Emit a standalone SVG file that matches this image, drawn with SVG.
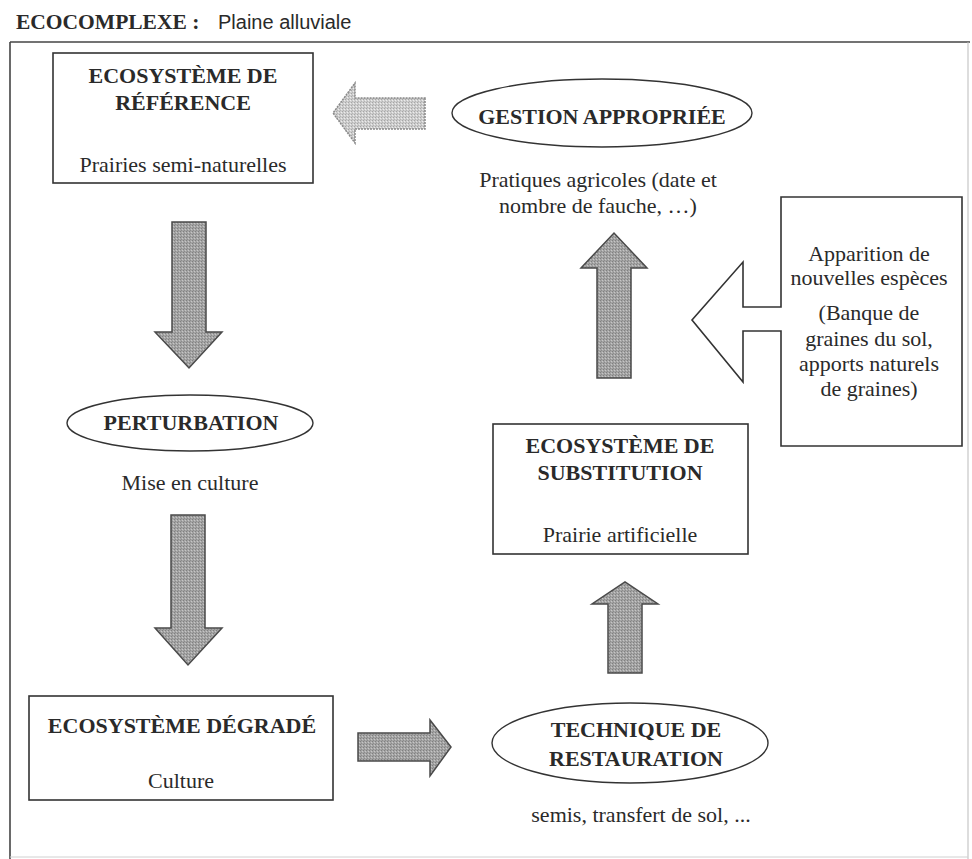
<svg xmlns="http://www.w3.org/2000/svg" width="972" height="859" viewBox="0 0 972 859">
<defs>
<pattern id="dk" width="3" height="3" patternUnits="userSpaceOnUse"><rect width="3" height="3" fill="#a4a4a4"/><rect width="1" height="1" fill="#808080"/><rect x="2" y="1" width="1" height="1" fill="#c6c6c6"/><rect x="1" y="2" width="1" height="1" fill="#8c8c8c"/></pattern>
<pattern id="lt" width="3" height="3" patternUnits="userSpaceOnUse"><rect width="3" height="3" fill="#cdcdcd"/><rect width="1" height="1" fill="#a6a6a6"/><rect x="2" y="1" width="1" height="1" fill="#ececec"/><rect x="1" y="2" width="1" height="1" fill="#b4b4b4"/></pattern>
</defs>
<style>
.box{fill:#fff;stroke:#333;stroke-width:1.6}
.ell{fill:#fff;stroke:#333;stroke-width:1.4}
.arr{fill:url(#dk);stroke:#4a4a4a;stroke-width:1.5;stroke-linejoin:miter}
.arrl{fill:url(#lt);stroke:#8a8a8a;stroke-width:1.5;stroke-dasharray:2 1}
.b{font-family:"Liberation Serif","Times New Roman",serif;font-weight:bold;font-size:22px;fill:#2a2a2a;text-anchor:middle}
.r{font-family:"Liberation Serif","Times New Roman",serif;font-size:22px;fill:#2a2a2a;text-anchor:middle}
</style>
<rect width="972" height="859" fill="#fff"/>
<g id="title">
<text x="16" y="29" style="font-family:'Liberation Serif',serif;font-weight:bold;font-size:21.5px;fill:#2a2a2a">ECOCOMPLEXE :</text>
<text x="218" y="29" style="font-family:'Liberation Sans',Arial,sans-serif;font-size:20px;fill:#2a2a2a">Plaine alluviale</text>
</g>
<g id="frame" fill="none">
<line x1="10" y1="42" x2="970" y2="42" stroke="#444" stroke-width="1.6"/>
<line x1="10" y1="42" x2="10" y2="859" stroke="#444" stroke-width="1.6"/>
<line x1="968" y1="42" x2="968" y2="859" stroke="#bbb" stroke-width="1"/>
<line x1="10" y1="857" x2="968" y2="857" stroke="#d0d0d0" stroke-width="1"/>
</g>
<g id="connectors">
<path class="arrl" d="M425,98 V129 H355 V143 L333,113 L355,83 V98 Z"/>
<path class="arr" d="M172,222 H206 V332 H222 L189,368 L155,332 H172 Z"/>
<path class="arr" d="M171,515 H205 V628 H222 L188,665 L155,628 H171 Z"/>
<path class="arr" d="M358,733 H430 V720 L451,747 L430,776 V761 H358 Z"/>
<path class="arr" d="M608,673 V604 H592 L625,582 L658,604 H642 V673 Z"/>
<path class="arr" d="M597,378 V268 H581 L614,233 L647,268 H631 V378 Z"/>
</g>
<g id="ref">
<rect class="box" x="53" y="53" width="260" height="130"/>
<text class="b" x="183" y="83">ECOSYSTÈME DE</text>
<text class="b" x="183" y="110">RÉFÉRENCE</text>
<text class="r" x="183" y="172">Prairies semi-naturelles</text>
</g>
<g id="gestion">
<ellipse class="ell" cx="602" cy="113" rx="150" ry="34"/>
<text class="b" x="602" y="124">GESTION APPROPRIÉE</text>
<text class="r" x="598" y="187">Pratiques agricoles (date et</text>
<text class="r" x="598" y="213">nombre de fauche, …)</text>
</g>
<g id="apparition">
<path class="box" d="M781,197 H962 V446 H781 V331 H743 V382 L692,320 L743,262 V307 H781 Z"/>
<text class="r" x="869" y="261">Apparition de</text>
<text class="r" x="869" y="285">nouvelles espèces</text>
<text class="r" x="869" y="320">(Banque de</text>
<text class="r" x="869" y="346">graines du sol,</text>
<text class="r" x="869" y="371">apports naturels</text>
<text class="r" x="869" y="396">de graines)</text>
</g>
<g id="perturbation">
<ellipse class="ell" cx="190" cy="423" rx="123" ry="28"/>
<text class="b" x="191" y="430">PERTURBATION</text>
<text class="r" x="190" y="490">Mise en culture</text>
</g>
<g id="substitution">
<rect class="box" x="493" y="424" width="255" height="130"/>
<text class="b" x="620" y="453">ECOSYSTÈME DE</text>
<text class="b" x="620" y="480">SUBSTITUTION</text>
<text class="r" x="620" y="542">Prairie artificielle</text>
</g>
<g id="degrade">
<rect class="box" x="29" y="696" width="304" height="104"/>
<text class="b" x="182" y="733">ECOSYSTÈME DÉGRADÉ</text>
<text class="r" x="181" y="788">Culture</text>
</g>
<g id="technique">
<ellipse class="ell" cx="630" cy="743" rx="138" ry="40"/>
<text class="b" x="636" y="737">TECHNIQUE DE</text>
<text class="b" x="636" y="766">RESTAURATION</text>
<text class="r" x="641" y="822">semis, transfert de sol, ...</text>
</g>
</svg>
